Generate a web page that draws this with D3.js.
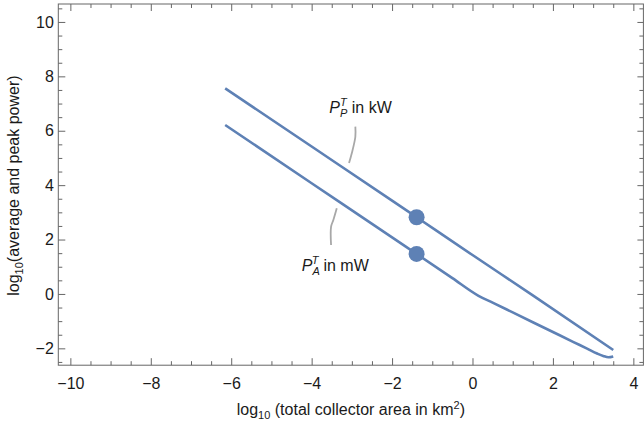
<!DOCTYPE html>
<html>
<head>
<meta charset="utf-8">
<script src="https://cdn.jsdelivr.net/npm/d3@7"></script>
<style>
  html, body { margin: 0; padding: 0; background: #fff; }
  svg { display: block; font-family: "Liberation Sans", Arial, sans-serif; }
</style>
</head>
<body>
<svg id="chart" width="644" height="425"></svg>
<script>
// log10 of total collector area (km^2) against log10 of power
const peakX = [-6.15, -4, -2, -1.39, 0, 1.5, 3.5];
const peakY = [7.56, 5.42, 3.43, 2.82, 1.43, -0.05, -2.06];

const avgX = [-6.15, -4, -2, -1.39, -0.5, 0.15, 0.5, 1.0, 1.5, 2.0, 2.5, 2.85, 3.1, 3.25, 3.38, 3.5];
const avgY = [6.21, 4.07, 2.08, 1.47, 0.58, -0.07, -0.32, -0.68, -1.04, -1.40, -1.76, -2.01, -2.19, -2.28, -2.33, -2.30];

// highlighted operating point on each curve
const markX = [-1.39, -1.39];
const markY = [2.82, 1.47];

const xTicks = [-10, -8, -6, -4, -2, 0, 2, 4];
const yTicks = [-2, 0, 2, 4, 6, 8, 10];

// callout leader lines and label anchors (data coordinates)
const peakLeaderX = [-2.913, -2.913, -3.002, -3.070];
const peakLeaderY = [6.15, 5.78, 5.17, 4.81];
const avgLeaderX = [-3.375, -3.460, -3.517, -3.517];
const avgLeaderY = [3.15, 2.72, 2.47, 1.80];
const peakLabelPos = [-3.56, 6.66];
const avgLabelPos = [-4.245, 0.83];

const xDomain = [-10.3, 4.25];
const yDomain = [-2.62, 10.66];

const svg = d3.select("#chart");
const x = d3.scaleLinear().domain(xDomain).range([58.3, 643.4]);
const y = d3.scaleLinear().domain(yDomain).range([365.2, 4]);

const frameColor = "#666";
const blue = "#5E81B5";

// minor ticks every half unit
const xMinor = d3.range(-10, 4.01, 0.5).filter(v => !xTicks.includes(v));
const yMinor = d3.range(-2.5, 10.51, 0.5).filter(v => !yTicks.includes(v));

function styleAxis(g) {
  g.select(".domain").remove();
  g.selectAll(".tick line").attr("stroke", frameColor);
  g.selectAll(".tick text").attr("fill", "#1a1a1a").attr("font-size", 16)
    .attr("font-family", "'Liberation Sans', Arial, sans-serif");
}

const yBottom = y(yDomain[0]), yTop = y(yDomain[1]);
const xLeft = x(xDomain[0]), xRight = x(xDomain[1]);

// bottom
svg.append("g").attr("transform", `translate(0,${yBottom})`)
  .call(d3.axisBottom(x).tickValues(xTicks).tickSize(-7).tickPadding(12)).call(styleAxis);
svg.append("g").attr("transform", `translate(0,${yBottom})`)
  .call(d3.axisBottom(x).tickValues(xMinor).tickSize(-4).tickFormat("")).call(styleAxis);
// top
svg.append("g").attr("transform", `translate(0,${yTop})`)
  .call(d3.axisTop(x).tickValues(xTicks).tickSize(-7).tickFormat("")).call(styleAxis);
svg.append("g").attr("transform", `translate(0,${yTop})`)
  .call(d3.axisTop(x).tickValues(xMinor).tickSize(-4).tickFormat("")).call(styleAxis);
// left
svg.append("g").attr("transform", `translate(${xLeft},0)`)
  .call(d3.axisLeft(y).tickValues(yTicks).tickSize(-7).tickPadding(4.5)).call(styleAxis);
svg.append("g").attr("transform", `translate(${xLeft},0)`)
  .call(d3.axisLeft(y).tickValues(yMinor).tickSize(-4).tickFormat("")).call(styleAxis);
// right
svg.append("g").attr("transform", `translate(${xRight},0)`)
  .call(d3.axisRight(y).tickValues(yTicks).tickSize(-6).tickFormat("")).call(styleAxis);
svg.append("g").attr("transform", `translate(${xRight},0)`)
  .call(d3.axisRight(y).tickValues(yMinor).tickSize(-4).tickFormat("")).call(styleAxis);

// frame
svg.append("rect")
  .attr("x", xLeft).attr("y", yTop)
  .attr("width", xRight - xLeft).attr("height", yBottom - yTop)
  .attr("fill", "none").attr("stroke", frameColor).attr("stroke-width", 1);

// curves
const line = d3.line().x(d => x(d[0])).y(d => y(d[1])).curve(d3.curveMonotoneX);
const peakData = peakX.map((v, i) => [v, peakY[i]]);
const avgData = avgX.map((v, i) => [v, avgY[i]]);

svg.append("path").datum(peakData).attr("d", line)
  .attr("fill", "none").attr("stroke", blue).attr("stroke-width", 2.6);
svg.append("path").datum(avgData).attr("d", line)
  .attr("fill", "none").attr("stroke", blue).attr("stroke-width", 2.6);

svg.selectAll("circle.mark").data(markX.map((v, i) => [v, markY[i]])).join("circle")
  .attr("class", "mark")
  .attr("cx", d => x(d[0])).attr("cy", d => y(d[1])).attr("r", 8)
  .attr("fill", blue);

// callout leaders
const leader = d3.line().x(d => x(d[0])).y(d => y(d[1])).curve(d3.curveCatmullRom);
svg.append("path").datum(peakLeaderX.map((v, i) => [v, peakLeaderY[i]])).attr("d", leader)
  .attr("fill", "none").attr("stroke", "#a8a8a8").attr("stroke-width", 1.8);
svg.append("path").datum(avgLeaderX.map((v, i) => [v, avgLeaderY[i]])).attr("d", leader)
  .attr("fill", "none").attr("stroke", "#a8a8a8").attr("stroke-width", 1.8);

// P with stacked subscript / superscript T, followed by the unit
function powerLabel(pos, sub, unit) {
  const t = svg.append("text")
    .attr("x", x(pos[0])).attr("y", y(pos[1]))
    .attr("font-size", 16).attr("fill", "#1a1a1a");
  t.append("tspan").attr("font-style", "italic").text("P");
  const s = t.append("tspan").attr("font-style", "italic").attr("font-size", 11)
    .attr("dy", 4).text(sub);
  const sw = s.node().getComputedTextLength();
  const p = t.append("tspan").attr("font-style", "italic").attr("font-size", 11)
    .attr("dx", -sw).attr("dy", -11).text("T");
  const pw = p.node().getComputedTextLength();
  t.append("tspan").attr("dx", Math.max(0, sw - pw)).attr("dy", 7).text(" in " + unit);
}
powerLabel(peakLabelPos, "P", "kW");
powerLabel(avgLabelPos, "A", "mW");

// axis titles
const xt = svg.append("text")
  .attr("x", (xLeft + xRight) / 2).attr("y", 415)
  .attr("text-anchor", "middle").attr("font-size", 16).attr("fill", "#1a1a1a");
xt.append("tspan").text("log");
xt.append("tspan").attr("font-size", 11).attr("dy", 4).text("10");
xt.append("tspan").attr("dy", -4).text(" (total collector area in km");
xt.append("tspan").attr("font-size", 11).attr("dy", -6).text("2");
xt.append("tspan").attr("dy", 6).text(")");

const yt = svg.append("text")
  .attr("transform", `translate(19,${(yTop + yBottom) / 2 + 1}) rotate(-90)`)
  .attr("text-anchor", "middle").attr("font-size", 16).attr("fill", "#1a1a1a");
yt.append("tspan").text("log");
yt.append("tspan").attr("font-size", 11).attr("dy", 4).text("10");
yt.append("tspan").attr("dy", -4).text("(average and peak power)");
</script>
</body>
</html>
